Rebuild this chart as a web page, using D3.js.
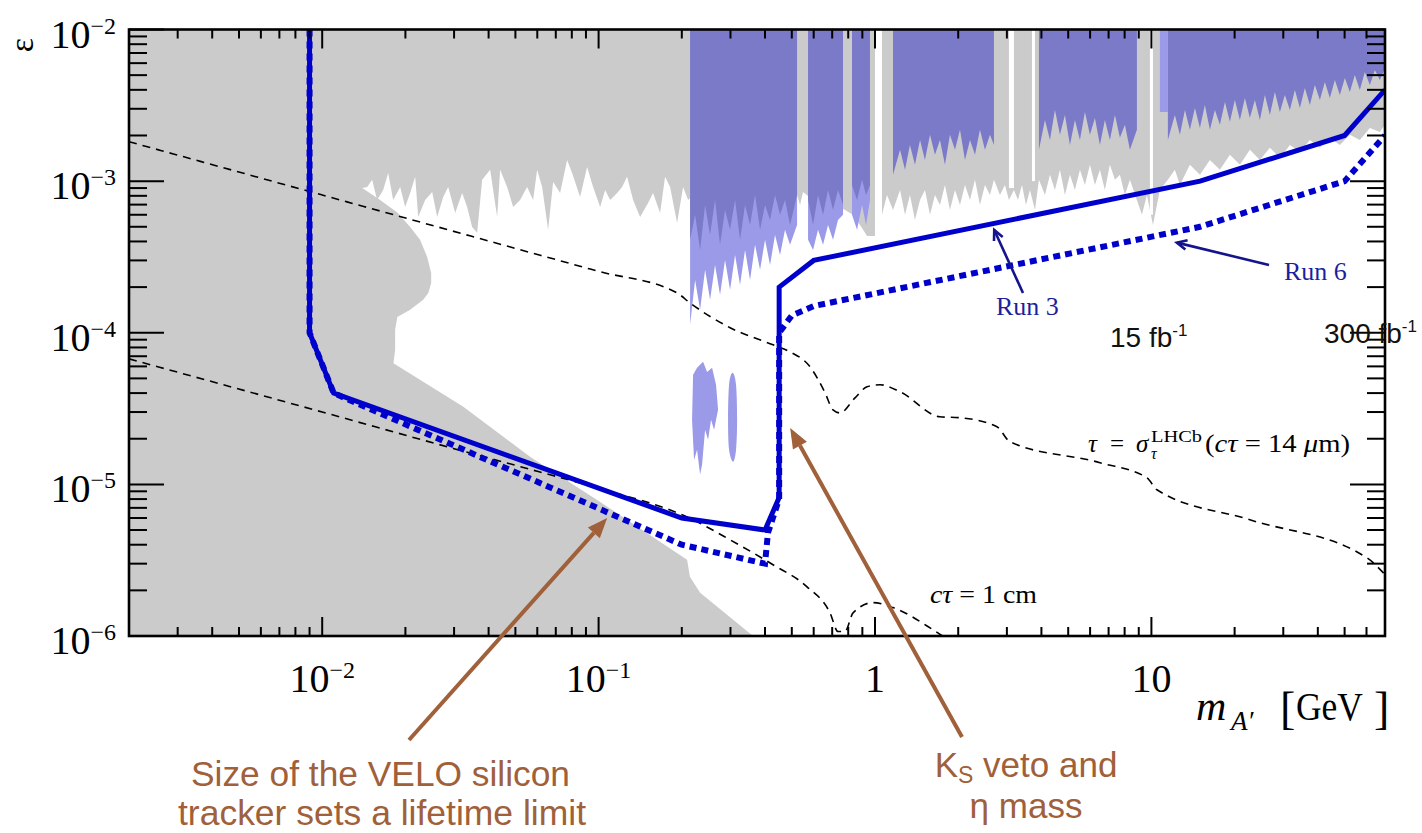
<!DOCTYPE html>
<html>
<head>
<meta charset="utf-8">
<script src="https://cdn.jsdelivr.net/npm/d3@7"></script>
<style>
  body { margin: 0; background: #fff; }
  svg { display: block; }
</style>
</head>
<body>
<svg id="chart" width="1422" height="833"></svg>
<script>
// ---------------- axis ticks ----------------
const xMajorTicks = [0.01, 0.1, 1, 10];
const xLabelBase = ["10", "10", "1", "10"];
const xLabelExp  = ["\u22122", "\u22121", "", ""];
const yMajorTicks = [1e-2, 1e-3, 1e-4, 1e-5, 1e-6];
const yLabelBase = ["10", "10", "10", "10", "10"];
const yLabelExp  = ["\u22122", "\u22123", "\u22124", "\u22125", "\u22126"];

// ---------------- LHCb reach curves ----------------
const run3Mass = [0.009, 0.009, 0.011, 0.2, 0.4, 0.45, 0.45, 0.6, 15, 50, 70];
const run3Eps  = [1e-2, 1e-4, 4e-5, 6e-6, 5e-6, 8.2e-6, 2e-4, 3e-4, 1e-3, 2e-3, 4e-3];
const run6Mass = [0.009, 0.009, 0.011, 0.2, 0.4, 0.41, 0.45, 0.45, 0.5, 0.6, 15, 50, 70];
const run6Eps  = [1e-2, 1e-4, 4e-5, 4e-6, 3e-6, 4.8e-6, 8e-6, 1e-4, 1.3e-4, 1.5e-4, 5e-4, 1e-3, 2e-3];

// ---------------- lifetime contours ----------------
const tauLineMass = [0.002, 0.01, 0.05, 0.1, 0.1923, 0.2143, 0.2990, 0.4276, 0.4927, 0.5821, 0.6594, 0.7048, 0.7472, 0.8466, 0.9355,
                     1.043, 1.232, 1.718, 2.030, 2.762, 3.078, 6.512, 9.632, 10.47, 22.71, 60.17, 70];
const tauLineEps  = [1.82e-3, 8.1e-4, 3.6e-4, 2.54e-4, 1.83e-4, 1.57e-4, 1.08e-4, 8.32e-5, 7.48e-5, 5.96e-5, 4.02e-5, 3.10e-5, 2.96e-5, 3.72e-5, 4.40e-5,
                     4.54e-5, 4.08e-5, 2.79e-5, 2.75e-5, 2.40e-5, 1.91e-5, 1.39e-5, 1.105e-5, 9.21e-6, 5.84e-6, 3.28e-6, 2.54e-6];
const ctauLineMass = [0.002, 0.01, 0.03, 0.06, 0.09552, 0.2197, 0.2990, 0.4276, 0.5677, 0.6875, 0.7347, 0.7790, 0.8328, 0.9835, 1.162, 1.621, 1.947];
const ctauLineEps  = [6.73e-5, 3.0e-5, 1.72e-5, 1.22e-5, 9.64e-6, 5.84e-6, 4.31e-6, 2.95e-6, 2.11e-6, 1.42e-6, 1.07e-6, 1.07e-6, 1.42e-6, 1.66e-6, 1.54e-6, 1.10e-6, 8.8e-7];

// ---------------- excluded regions (grey) ----------------
// lower edge of the prompt-search exclusion, filled from the top of the plot
const promptLeftMass = [0.002, 0.01396, 0.01455, 0.01516, 0.01580, 0.01662, 0.01733, 0.01806, 0.01915, 0.01996,
  0.02081, 0.02170, 0.02225, 0.02358, 0.02500, 0.02606, 0.02740, 0.02857, 0.03028, 0.03209,
  0.03345, 0.03487, 0.03636, 0.03791, 0.04052, 0.04295, 0.04404, 0.04668, 0.04907, 0.05201,
  0.05513, 0.05796, 0.05992, 0.06247, 0.06567, 0.06847, 0.07257, 0.07692, 0.08019, 0.08572,
  0.09087, 0.09552, 0.1013, 0.1056, 0.1101, 0.1167, 0.1216, 0.1268, 0.1333, 0.1413,
  0.1510, 0.1574, 0.1669, 0.1740, 0.1814, 0.1923, 0.2021, 0.2108];
const promptLeftEps = [9.02e-4, 9.02e-4, 9.16e-4, 1.02e-3, 7.52e-4, 8.75e-4, 1.13e-3, 7.52e-4, 9.16e-4, 6.76e-4,
  8.36e-4, 1.07e-3, 5.81e-4, 7.52e-4, 8.49e-4, 5.81e-4, 7.87e-4, 9.16e-4, 6.17e-4, 8.36e-4,
  6.76e-4, 4.99e-4, 4.56e-4, 1.02e-3, 1.19e-3, 5.81e-4, 1.19e-3, 9.16e-4, 6.76e-4, 7.52e-4,
  9.16e-4, 7.52e-4, 1.19e-3, 9.16e-4, 4.77e-4, 9.88e-4, 8.36e-4, 1.38e-3, 1.13e-3, 7.87e-4,
  1.24e-3, 9.16e-4, 6.76e-4, 8.75e-4, 7.52e-4, 8.36e-4, 9.16e-4, 1.07e-3, 7.52e-4, 5.81e-4,
  7.18e-4, 8.36e-4, 6.17e-4, 1.07e-3, 9.16e-4, 5.30e-4, 9.16e-4, 7.52e-4];
const promptMidMass = [0.2143, 0.3531, 0.5224, 0.5356, 0.5489, 0.5725, 0.6486, 0.7472, 0.8328, 0.8975, 0.9355, 1.000];
const promptMidEps  = [7.75e-4, 8.11e-4, 8.11e-4, 6.97e-4, 8.49e-4, 7.99e-4, 7.29e-4, 6.76e-4, 5.99e-4, 4.91e-4, 4.35e-4, 4.35e-4];
const promptRightMass = [1.060, 1.105, 1.162, 1.232, 1.284, 1.338, 1.395, 1.455, 1.516, 1.581,
  1.648, 1.718, 1.791, 1.867, 1.947, 2.030, 2.116, 2.206, 2.300, 2.397,
  2.499, 2.606, 2.694, 2.832, 2.952, 3.052, 3.182, 3.290, 3.401, 3.517,
  3.635, 3.791, 3.919, 4.120, 4.295, 4.477, 4.668, 4.866, 5.073, 5.288,
  5.513, 5.748, 5.992, 6.246, 6.512, 6.788, 7.077, 7.380, 7.692, 8.019,
  8.360, 8.862, 9.240, 9.632, 10.13, 10.73, 11.47, 12.16, 12.68, 13.78,
  14.98, 16.28, 17.69, 19.23, 20.90, 22.71, 24.69, 26.83, 29.16, 31.70,
  34.45, 37.44, 40.69, 44.22, 48.06, 52.23, 56.76, 61.70, 67.06, 70];
const promptRightEps = [5.99e-4, 8.11e-4, 6.46e-4, 8.75e-4, 5.99e-4, 8.11e-4, 5.55e-4, 7.52e-4, 8.75e-4, 5.99e-4,
  8.11e-4, 6.97e-4, 9.44e-4, 6.46e-4, 8.75e-4, 6.97e-4, 9.44e-4, 7.52e-4, 1.02e-3, 6.97e-4,
  9.44e-4, 8.11e-4, 1.02e-3, 8.11e-4, 9.44e-4, 7.52e-4, 8.75e-4, 7.52e-4, 9.44e-4, 6.97e-4,
  8.75e-4, 6.46e-4, 1.02e-3, 8.11e-4, 1.10e-3, 8.75e-4, 1.19e-3, 8.11e-4, 1.10e-3, 8.75e-4,
  1.19e-3, 9.44e-4, 1.28e-3, 9.44e-4, 1.19e-3, 8.75e-4, 1.28e-3, 1.02e-3, 1.10e-3, 8.11e-4,
  1.02e-3, 7.52e-4, 5.99e-4, 8.11e-4, 5.14e-4, 8.75e-4, 1.02e-3, 1.19e-3, 9.44e-4, 1.28e-3,
  1.10e-3, 1.38e-3, 1.19e-3, 1.49e-3, 1.28e-3, 1.61e-3, 1.38e-3, 1.66e-3, 1.42e-3, 1.73e-3,
  1.56e-3, 1.87e-3, 1.66e-3, 1.93e-3, 1.73e-3, 2.02e-3, 1.87e-3, 2.24e-3, 2.11e-3, 2.35e-3];

// beam-dump exclusion outline (closed polygon)
const beamDumpMass = [0.002, 0.01396, 0.0162, 0.0187, 0.02081, 0.0226, 0.02398, 0.02479, 0.02479, 0.0242,
  0.0232, 0.0208, 0.0187, 0.01836, 0.01836, 0.0181, 0.0324, 0.0565, 0.0988, 0.209, 0.214, 0.233, 0.362, 0.002];
const beamDumpEps = [9.02e-4, 9.02e-4, 7.5e-4, 6.2e-4, 4.99e-4, 4.1e-4, 3.16e-4, 2.48e-4, 2.13e-4, 1.83e-4,
  1.65e-4, 1.42e-4, 1.27e-4, 1.045e-4, 7.7e-5, 6.3e-5, 3.25e-5, 1.52e-5, 7.9e-6, 3.18e-6, 2.46e-6, 1.93e-6, 1e-6, 1e-6];

// narrow unexcluded mass windows cutting through the grey
const gapMassLo = [1.000, 3.052, 3.697, 9.875];
const gapMassHi = [1.060, 3.182, 3.791, 10.13];
const gapEps    = [3e-4, 9e-4, 1.0e-3, 6e-4];

// ---------------- LHCb prompt dark-photon limits (blue) ----------------
const lhcbS1Mass = [0.2143, 0.2234, 0.2329, 0.2428, 0.2531, 0.2638, 0.2750, 0.2867, 0.2990, 0.3117, 0.3249,
  0.3387, 0.3531, 0.3681, 0.3838, 0.4001, 0.4171, 0.4348, 0.4533, 0.4726, 0.4927, 0.5224];
const lhcbS1Eps = [4.10e-4, 5.99e-4, 3.52e-4, 6.97e-4, 4.42e-4, 7.52e-4, 3.80e-4, 6.46e-4, 4.77e-4, 7.52e-4, 4.10e-4,
  6.97e-4, 5.14e-4, 8.11e-4, 4.77e-4, 6.97e-4, 5.55e-4, 8.11e-4, 5.99e-4, 7.52e-4, 5.14e-4, 8.11e-4];
const lhcbS1FringeEps = [1.13e-4, 2.23e-4, 1.42e-4, 2.60e-4, 1.65e-4, 2.80e-4, 1.78e-4, 3.02e-4, 1.92e-4, 3.26e-4, 2.07e-4,
  3.52e-4, 2.23e-4, 3.80e-4, 2.60e-4, 4.10e-4, 2.80e-4, 4.42e-4, 3.26e-4, 4.77e-4, 3.80e-4, 5.14e-4];
const lhcbS2Mass = [0.5725, 0.5968, 0.6221, 0.6486, 0.6761, 0.7048, 0.7347, 0.7661];
const lhcbS2Eps  = [7.52e-4, 5.14e-4, 8.11e-4, 5.99e-4, 8.75e-4, 6.46e-4, 8.75e-4, 6.97e-4];
const lhcbS2FringeEps = [4.10e-4, 3.52e-4, 4.77e-4, 3.80e-4, 5.14e-4, 4.10e-4, 5.55e-4, 5.99e-4];
const lhcbS3Mass = [0.8257, 0.8610, 0.8975, 0.9279, 0.9592];
const lhcbS3Eps  = [9.44e-4, 7.52e-4, 1.02e-3, 8.11e-4, 9.44e-4];
const lhcbS3FringeEps = [5.99e-4, 4.77e-4, 6.97e-4, 5.14e-4, 7.52e-4];
const lhcbS4Mass = [1.162, 1.232, 1.284, 1.338, 1.395, 1.455, 1.516, 1.581, 1.648, 1.718, 1.791,
  1.867, 1.947, 2.030, 2.116, 2.206, 2.300, 2.397, 2.499, 2.606, 2.694];
const lhcbS4Eps = [1.10e-3, 1.61e-3, 1.19e-3, 1.73e-3, 1.28e-3, 1.87e-3, 1.38e-3, 2.02e-3, 1.49e-3, 1.87e-3, 1.28e-3,
  2.02e-3, 1.61e-3, 2.18e-3, 1.38e-3, 1.87e-3, 1.49e-3, 2.18e-3, 1.61e-3, 2.02e-3, 1.73e-3];
const lhcbS5Mass = [3.919, 4.120, 4.295, 4.477, 4.668, 4.866, 5.073, 5.288, 5.513, 5.748,
  5.992, 6.246, 6.512, 6.788, 7.077, 7.380, 7.692, 8.019, 8.360, 8.862];
const lhcbS5Eps = [1.61e-3, 2.53e-3, 1.87e-3, 2.95e-3, 2.02e-3, 2.73e-3, 1.73e-3, 2.53e-3, 1.87e-3, 2.86e-3,
  2.02e-3, 2.61e-3, 1.73e-3, 2.53e-3, 1.87e-3, 2.73e-3, 1.93e-3, 2.35e-3, 1.61e-3, 2.18e-3];
const lhcbS6Mass = [11.47, 12.16, 12.68, 13.22, 13.78, 14.37, 14.98, 15.61, 16.28, 16.97,
  17.69, 18.45, 19.23, 20.04, 20.90, 21.79, 22.71, 23.68, 24.69, 25.74,
  26.83, 27.97, 29.16, 30.40, 31.70, 33.04, 34.45, 35.91, 37.44, 39.03,
  40.69, 42.42, 44.22, 46.10, 48.06, 50.10, 52.23, 54.45, 56.76, 59.18,
  61.70, 64.33, 67.06, 70];
const lhcbS6Eps = [1.87e-3, 2.73e-3, 2.02e-3, 2.95e-3, 2.18e-3, 3.04e-3, 2.24e-3, 3.18e-3, 2.18e-3, 2.95e-3,
  2.35e-3, 3.33e-3, 2.46e-3, 3.43e-3, 2.53e-3, 3.54e-3, 2.61e-3, 3.43e-3, 2.53e-3, 3.70e-3,
  2.73e-3, 3.87e-3, 2.86e-3, 3.70e-3, 2.95e-3, 3.99e-3, 3.04e-3, 4.11e-3, 3.18e-3, 4.31e-3,
  3.43e-3, 4.51e-3, 3.54e-3, 4.65e-3, 3.70e-3, 4.79e-3, 3.87e-3, 5.01e-3, 3.99e-3, 5.25e-3,
  4.31e-3, 5.41e-3, 4.65e-3, 5.57e-3];
const lightBandMass = [10.73, 11.47];
const lightBandEps  = [2.86e-3, 2.86e-3];

// displaced-search islands near the eta mass
const island1Mass = [0.2197, 0.2271, 0.2388, 0.2469, 0.2574, 0.2660, 0.2705, 0.2617, 0.2552, 0.2489, 0.2428, 0.2368, 0.2329, 0.2271, 0.2215, 0.2178];
const island1Eps  = [5.28e-5, 5.87e-5, 6.43e-5, 5.52e-5, 5.87e-5, 4.54e-5, 3.10e-5, 2.29e-5, 2.67e-5, 1.97e-5, 2.29e-5, 1.35e-5, 1.16e-5, 1.69e-5, 1.45e-5, 2.67e-5];
const island2Mass = [0.3052, 0.3142, 0.3170, 0.3142, 0.3065, 0.2965, 0.2940, 0.2965];
const island2Eps  = [5.44e-5, 4.54e-5, 2.67e-5, 1.69e-5, 1.41e-5, 1.69e-5, 2.67e-5, 4.54e-5];

// annotation arrow tips, in data units
const run3Tip = [2.70, 4.76e-4];
const run6Tip = [12.36, 3.93e-4];
const veloTip = [0.1074, 6.0e-6];
const ksTip   = [0.4934, 2.35e-5];

// ---------------- styles ----------------
const GRAY = "#cbcbcb", BLUE_DARK = "#7a7ac8", BLUE_LIGHT = "#9a9ae8";
const LINE_BLUE = "#0000cc", NAVY = "#14148c", BROWN = "#a0603a";
const SERIF = "'Liberation Serif', 'Times New Roman', serif";
const SANS = "'Liberation Sans', Arial, Helvetica, sans-serif";

const svg = d3.select("#chart");
const X0 = 129, X1 = 1385, Y0 = 29.5, Y1 = 636;
const x = d3.scaleLog().domain([0.002, 70]).range([X0, X1]);
const y = d3.scaleLog().domain([1e-6, 1e-2]).range([Y1, Y0]);

svg.append("rect").attr("width", 1422).attr("height", 833).attr("fill", "#fff");
svg.append("defs").append("clipPath").attr("id", "plotClip")
  .append("rect").attr("x", X0).attr("y", Y0).attr("width", X1 - X0).attr("height", Y1 - Y0);
const plot = svg.append("g").attr("clip-path", "url(#plotClip)");

const pts = (ms, es) => d3.zip(ms, es);
const fromTop = d3.area().x(d => x(d[0])).y0(y(1e-2)).y1(d => y(d[1]));
const poly = d3.line().x(d => x(d[0])).y(d => y(d[1]));

// grey exclusions
plot.append("path")
  .attr("d", fromTop(pts(promptLeftMass.concat(promptMidMass, promptRightMass),
                         promptLeftEps.concat(promptMidEps, promptRightEps))))
  .attr("fill", GRAY);
plot.append("path").attr("d", poly(pts(beamDumpMass, beamDumpEps)) + "Z").attr("fill", GRAY);
gapMassLo.forEach((lo, i) => {
  plot.append("rect")
    .attr("x", x(lo)).attr("width", x(gapMassHi[i]) - x(lo))
    .attr("y", Y0).attr("height", y(gapEps[i]) - Y0)
    .attr("fill", "#fff");
});

// blue LHCb limits: pale fringes first, then the solid fill
[[lhcbS1Mass, lhcbS1FringeEps], [lhcbS2Mass, lhcbS2FringeEps], [lhcbS3Mass, lhcbS3FringeEps]]
  .forEach(([m, e]) => plot.append("path").attr("d", fromTop(pts(m, e))).attr("fill", BLUE_LIGHT));
[[lhcbS1Mass, lhcbS1Eps], [lhcbS2Mass, lhcbS2Eps], [lhcbS3Mass, lhcbS3Eps],
 [lhcbS4Mass, lhcbS4Eps], [lhcbS5Mass, lhcbS5Eps], [lhcbS6Mass, lhcbS6Eps]]
  .forEach(([m, e]) => plot.append("path").attr("d", fromTop(pts(m, e))).attr("fill", BLUE_DARK));
plot.append("path").attr("d", fromTop(pts(lightBandMass, lightBandEps))).attr("fill", BLUE_LIGHT);

plot.append("path").attr("d", poly(pts(island1Mass, island1Eps)) + "Z").attr("fill", BLUE_LIGHT);
plot.append("path")
  .attr("d", d3.line().x(d => x(d[0])).y(d => y(d[1])).curve(d3.curveCardinalClosed)(pts(island2Mass, island2Eps)))
  .attr("fill", BLUE_LIGHT);

// lifetime contours
const smooth = d3.line().x(d => x(d[0])).y(d => y(d[1])).curve(d3.curveMonotoneX);
[[tauLineMass, tauLineEps], [ctauLineMass, ctauLineEps]].forEach(([m, e]) => {
  plot.append("path").attr("d", smooth(pts(m, e)))
    .attr("fill", "none").attr("stroke", "#000").attr("stroke-width", 1.6)
    .attr("stroke-dasharray", "8,6");
});

// projected reach
plot.append("path").attr("d", poly(pts(run3Mass, run3Eps)))
  .attr("fill", "none").attr("stroke", LINE_BLUE).attr("stroke-width", 5)
  .attr("stroke-linejoin", "miter");
plot.append("path").attr("d", poly(pts(run6Mass, run6Eps)))
  .attr("fill", "none").attr("stroke", LINE_BLUE).attr("stroke-width", 6)
  .attr("stroke-dasharray", "7,5");

// ---------------- frame and ticks ----------------
const axisG = svg.append("g").attr("stroke", "#000");
const isMajor = v => Math.abs(Math.log10(v) - Math.round(Math.log10(v))) < 1e-6;
x.ticks().forEach(t => {
  const len = isMajor(t) ? 19 : 9, px = x(t);
  axisG.append("line").attr("x1", px).attr("x2", px).attr("y1", Y1).attr("y2", Y1 - len).attr("stroke-width", 2);
  axisG.append("line").attr("x1", px).attr("x2", px).attr("y1", Y0).attr("y2", Y0 + len).attr("stroke-width", 2);
});
y.ticks().forEach(t => {
  const len = isMajor(t) ? 35 : 18, py = y(t);
  axisG.append("line").attr("x1", X0).attr("x2", X0 + len).attr("y1", py).attr("y2", py).attr("stroke-width", 2);
  axisG.append("line").attr("x1", X1).attr("x2", X1 - len).attr("y1", py).attr("y2", py).attr("stroke-width", 2);
});
svg.append("rect").attr("x", X0).attr("y", Y0).attr("width", X1 - X0).attr("height", Y1 - Y0)
  .attr("fill", "none").attr("stroke", "#000").attr("stroke-width", 2.6);

function powerLabel(px, py, base, exp, anchor) {
  const t = svg.append("text").attr("x", px).attr("y", py).attr("text-anchor", anchor)
    .attr("font-family", SERIF).attr("font-size", 40).attr("fill", "#000");
  t.append("tspan").text(base);
  if (exp) t.append("tspan").attr("font-size", 24).attr("dy", -14).text(exp);
}
xMajorTicks.forEach((t, i) => powerLabel(x(t), 692, xLabelBase[i], xLabelExp[i], "middle"));
yMajorTicks.forEach((t, i) => powerLabel(116, y(t) + 18, yLabelBase[i], yLabelExp[i], "end"));

// axis titles
svg.append("text").attr("transform", "translate(33,45) rotate(-90)")
  .attr("text-anchor", "middle").attr("font-family", SERIF).attr("font-size", 34).text("\u03b5");
svg.append("text").attr("x", 1196).attr("y", 720).attr("font-family", SERIF).attr("font-size", 42)
  .attr("font-style", "italic").text("m");
svg.append("text").attr("x", 1231).attr("y", 730).attr("font-family", SERIF).attr("font-size", 27)
  .attr("font-style", "italic").text("A\u2032");
svg.append("text").attr("x", 1280).attr("y", 724).attr("font-family", SERIF).attr("font-size", 46).text("[");
svg.append("text").attr("x", 1296).attr("y", 720).attr("font-family", SERIF).attr("font-size", 40)
  .attr("textLength", 67).attr("lengthAdjust", "spacingAndGlyphs").text("GeV");
svg.append("text").attr("x", 1374).attr("y", 724).attr("font-family", SERIF).attr("font-size", 46).text("]");

// ---------------- annotations ----------------
function openArrow(x1, y1, x2, y2, color) {
  const a = Math.atan2(y2 - y1, x2 - x1), L = 11, w = 0.45;
  svg.append("line").attr("x1", x1).attr("y1", y1).attr("x2", x2).attr("y2", y2)
    .attr("stroke", color).attr("stroke-width", 2.6);
  svg.append("path")
    .attr("d", `M${x2 - L * Math.cos(a - w)},${y2 - L * Math.sin(a - w)} L${x2},${y2} L${x2 - L * Math.cos(a + w)},${y2 - L * Math.sin(a + w)}`)
    .attr("fill", "none").attr("stroke", color).attr("stroke-width", 2.6);
}
function solidArrow(x1, y1, x2, y2, color) {
  const a = Math.atan2(y2 - y1, x2 - x1), L = 20, hw = 8;
  const bx = x2 - L * Math.cos(a), by = y2 - L * Math.sin(a);
  svg.append("line").attr("x1", x1).attr("y1", y1).attr("x2", bx).attr("y2", by)
    .attr("stroke", color).attr("stroke-width", 4);
  svg.append("path")
    .attr("d", `M${x2},${y2} L${bx + hw * Math.sin(a)},${by - hw * Math.cos(a)} L${bx - hw * Math.sin(a)},${by + hw * Math.cos(a)} Z`)
    .attr("fill", color);
}

openArrow(1023, 293, x(run3Tip[0]), y(run3Tip[1]), NAVY);
openArrow(1269, 265, x(run6Tip[0]), y(run6Tip[1]), NAVY);
svg.append("text").attr("x", 996).attr("y", 315).attr("font-family", SERIF).attr("font-size", 26)
  .attr("fill", "#1e1e9c").text("Run 3");
svg.append("text").attr("x", 1284).attr("y", 280).attr("font-family", SERIF).attr("font-size", 26)
  .attr("fill", "#1e1e9c").text("Run 6");

function lumiLabel(px, py, num) {
  const t = svg.append("text").attr("x", px).attr("y", py).attr("font-family", SANS)
    .attr("font-size", 28).attr("fill", "#111");
  t.append("tspan").text(num + " fb");
  t.append("tspan").attr("font-size", 17).attr("dy", -11).text("-1");
}
lumiLabel(1110, 347, "15");
lumiLabel(1324, 343, "300");

// contour labels
svg.append("text").attr("x", 1088).attr("y", 452).attr("font-family", SERIF).attr("font-size", 25)
  .attr("font-style", "italic").text("\u03c4");
svg.append("text").attr("x", 1110).attr("y", 452).attr("font-family", SERIF).attr("font-size", 25).text("=");
svg.append("text").attr("x", 1136).attr("y", 452).attr("font-family", SERIF).attr("font-size", 25)
  .attr("font-style", "italic").text("\u03c3");
svg.append("text").attr("x", 1151).attr("y", 442).attr("font-family", SERIF).attr("font-size", 16)
  .attr("textLength", 51).attr("lengthAdjust", "spacingAndGlyphs").text("LHCb");
svg.append("text").attr("x", 1151).attr("y", 459).attr("font-family", SERIF).attr("font-size", 16)
  .attr("font-style", "italic").text("\u03c4");
{
  const t = svg.append("text").attr("x", 1205).attr("y", 452).attr("font-family", SERIF).attr("font-size", 25)
    .attr("textLength", 145).attr("lengthAdjust", "spacingAndGlyphs");
  t.append("tspan").text("(");
  t.append("tspan").attr("font-style", "italic").text("c\u03c4");
  t.append("tspan").text(" = 14 ");
  t.append("tspan").attr("font-style", "italic").text("\u03bc");
  t.append("tspan").text("m)");
}
{
  const t = svg.append("text").attr("x", 930).attr("y", 603).attr("font-family", SERIF).attr("font-size", 25)
    .attr("textLength", 107).attr("lengthAdjust", "spacingAndGlyphs");
  t.append("tspan").attr("font-style", "italic").text("c\u03c4");
  t.append("tspan").text(" = 1 cm");
}

// physics notes
solidArrow(409, 740, x(veloTip[0]), y(veloTip[1]), BROWN);
solidArrow(962, 737, x(ksTip[0]), y(ksTip[1]), BROWN);
svg.append("text").attr("x", 191).attr("y", 786).attr("font-family", SANS).attr("font-size", 35)
  .attr("fill", BROWN).attr("textLength", 379).attr("lengthAdjust", "spacingAndGlyphs")
  .text("Size of the VELO silicon");
svg.append("text").attr("x", 178).attr("y", 825).attr("font-family", SANS).attr("font-size", 35)
  .attr("fill", BROWN).attr("textLength", 408).attr("lengthAdjust", "spacingAndGlyphs")
  .text("tracker sets a lifetime limit");
{
  const t = svg.append("text").attr("x", 1026).attr("y", 777).attr("text-anchor", "middle")
    .attr("font-family", SANS).attr("font-size", 35).attr("fill", BROWN);
  t.append("tspan").text("K");
  t.append("tspan").attr("font-size", 23).attr("dy", 6).text("S");
  t.append("tspan").attr("dy", -6).text(" veto and");
}
svg.append("text").attr("x", 1026).attr("y", 818).attr("text-anchor", "middle")
  .attr("font-family", SANS).attr("font-size", 35).attr("fill", BROWN).text("\u03b7 mass");
</script>
</body>
</html>
